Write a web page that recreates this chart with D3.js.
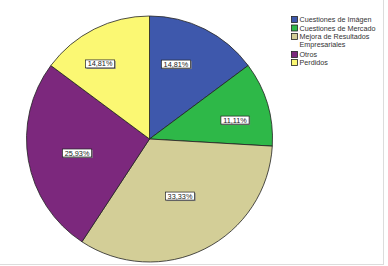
<!DOCTYPE html>
<html><head><meta charset="utf-8">
<script src="https://cdn.jsdelivr.net/npm/d3@7"></script>
<style>body{margin:0;background:#fff}svg{display:block}</style>
</head><body>
<script>
const categories = ["Cuestiones de Imágen","Cuestiones de Mercado","Mejora de Resultados Empresariales","Otros","Perdidos"];
const legendLines = [["Cuestiones de Imágen"],["Cuestiones de Mercado"],["Mejora de Resultados","Empresariales"],["Otros"],["Perdidos"]];
const values = [14.81, 11.11, 33.33, 25.93, 14.81];
const labels = ["14,81%","11,11%","33,33%","25,93%","14,81%"];
const colors = ["#3E58AC","#2EB848","#D3CE97","#7C287D","#FBF873"];
// label placement inside each slice: [fraction along slice angle, fraction of radius]
const labelPlacement = [[0.365,0.646],[0.605,0.712],[0.488,0.526],[0.49,0.60],[0.374,0.731]];

const W=388,H=266;
const svg=d3.select("body").append("svg").attr("width",W).attr("height",H);
svg.append("rect").attr("x",0).attr("y",0).attr("width",W).attr("height",H).attr("fill","#fff");
svg.append("line").attr("x1",383.5).attr("x2",383.5).attr("y1",0).attr("y2",264.5).attr("stroke","#dcdcdc");
svg.append("line").attr("x1",0).attr("x2",384).attr("y1",264.5).attr("y2",264.5).attr("stroke","#dcdcdc");

const cx=149.5, cy=139, R=123;
const pie=d3.pie().sort(null).value(d=>d)(values);
const arc=d3.arc().innerRadius(0).outerRadius(R);
const g=svg.append("g").attr("transform",`translate(${cx},${cy})`);
g.selectAll("path").data(pie).join("path")
  .attr("d",arc).attr("fill",(d,i)=>colors[i])
  .attr("stroke","#222").attr("stroke-width",0.8);

const rScale=d3.scaleLinear().domain([0,1]).range([0,R]);
const lg=g.selectAll("g.lab").data(pie).join("g").attr("class","lab")
  .attr("transform",(d,i)=>{
    const [t,f]=labelPlacement[i];
    const a=d.startAngle+(d.endAngle-d.startAngle)*t;
    const r=rScale(f);
    return `translate(${r*Math.sin(a)},${-r*Math.cos(a)})`;
  });
lg.each(function(d,i){
  const s=d3.select(this);
  const t=s.append("text").text(labels[i]).attr("font-family","Liberation Sans, Arial, sans-serif")
    .attr("font-size",7.3).attr("text-anchor","middle").attr("dy","0.35em").attr("fill","#222");
  const bb=t.node().getBBox();
  const w=bb.width+4,h=8;
  s.insert("rect","text").attr("x",-w/2+1).attr("y",-h/2+1).attr("width",w).attr("height",h).attr("fill","#888");
  s.insert("rect","text").attr("x",-w/2).attr("y",-h/2).attr("width",w).attr("height",h).attr("fill","#fff").attr("stroke","#222").attr("stroke-width",0.7);
});

const lx=291, ys=[20,28.5,37,55,63];
const leg=svg.append("g");
legendLines.forEach((lines,i)=>{
  const y=ys[i];
  leg.append("rect").attr("x",lx+0.5).attr("y",y-3.5).attr("width",6).attr("height",6)
    .attr("fill",colors[i]).attr("stroke","#222").attr("stroke-width",0.8);
  lines.forEach((ln,j)=>{
    leg.append("text").attr("x",lx+8.5).attr("y",y+j*7.5).attr("dy","0.33em")
      .attr("font-family","Liberation Sans, Arial, sans-serif").attr("font-size",7.2).attr("fill","#333").text(ln);
  });
});
</script>
</body></html>
